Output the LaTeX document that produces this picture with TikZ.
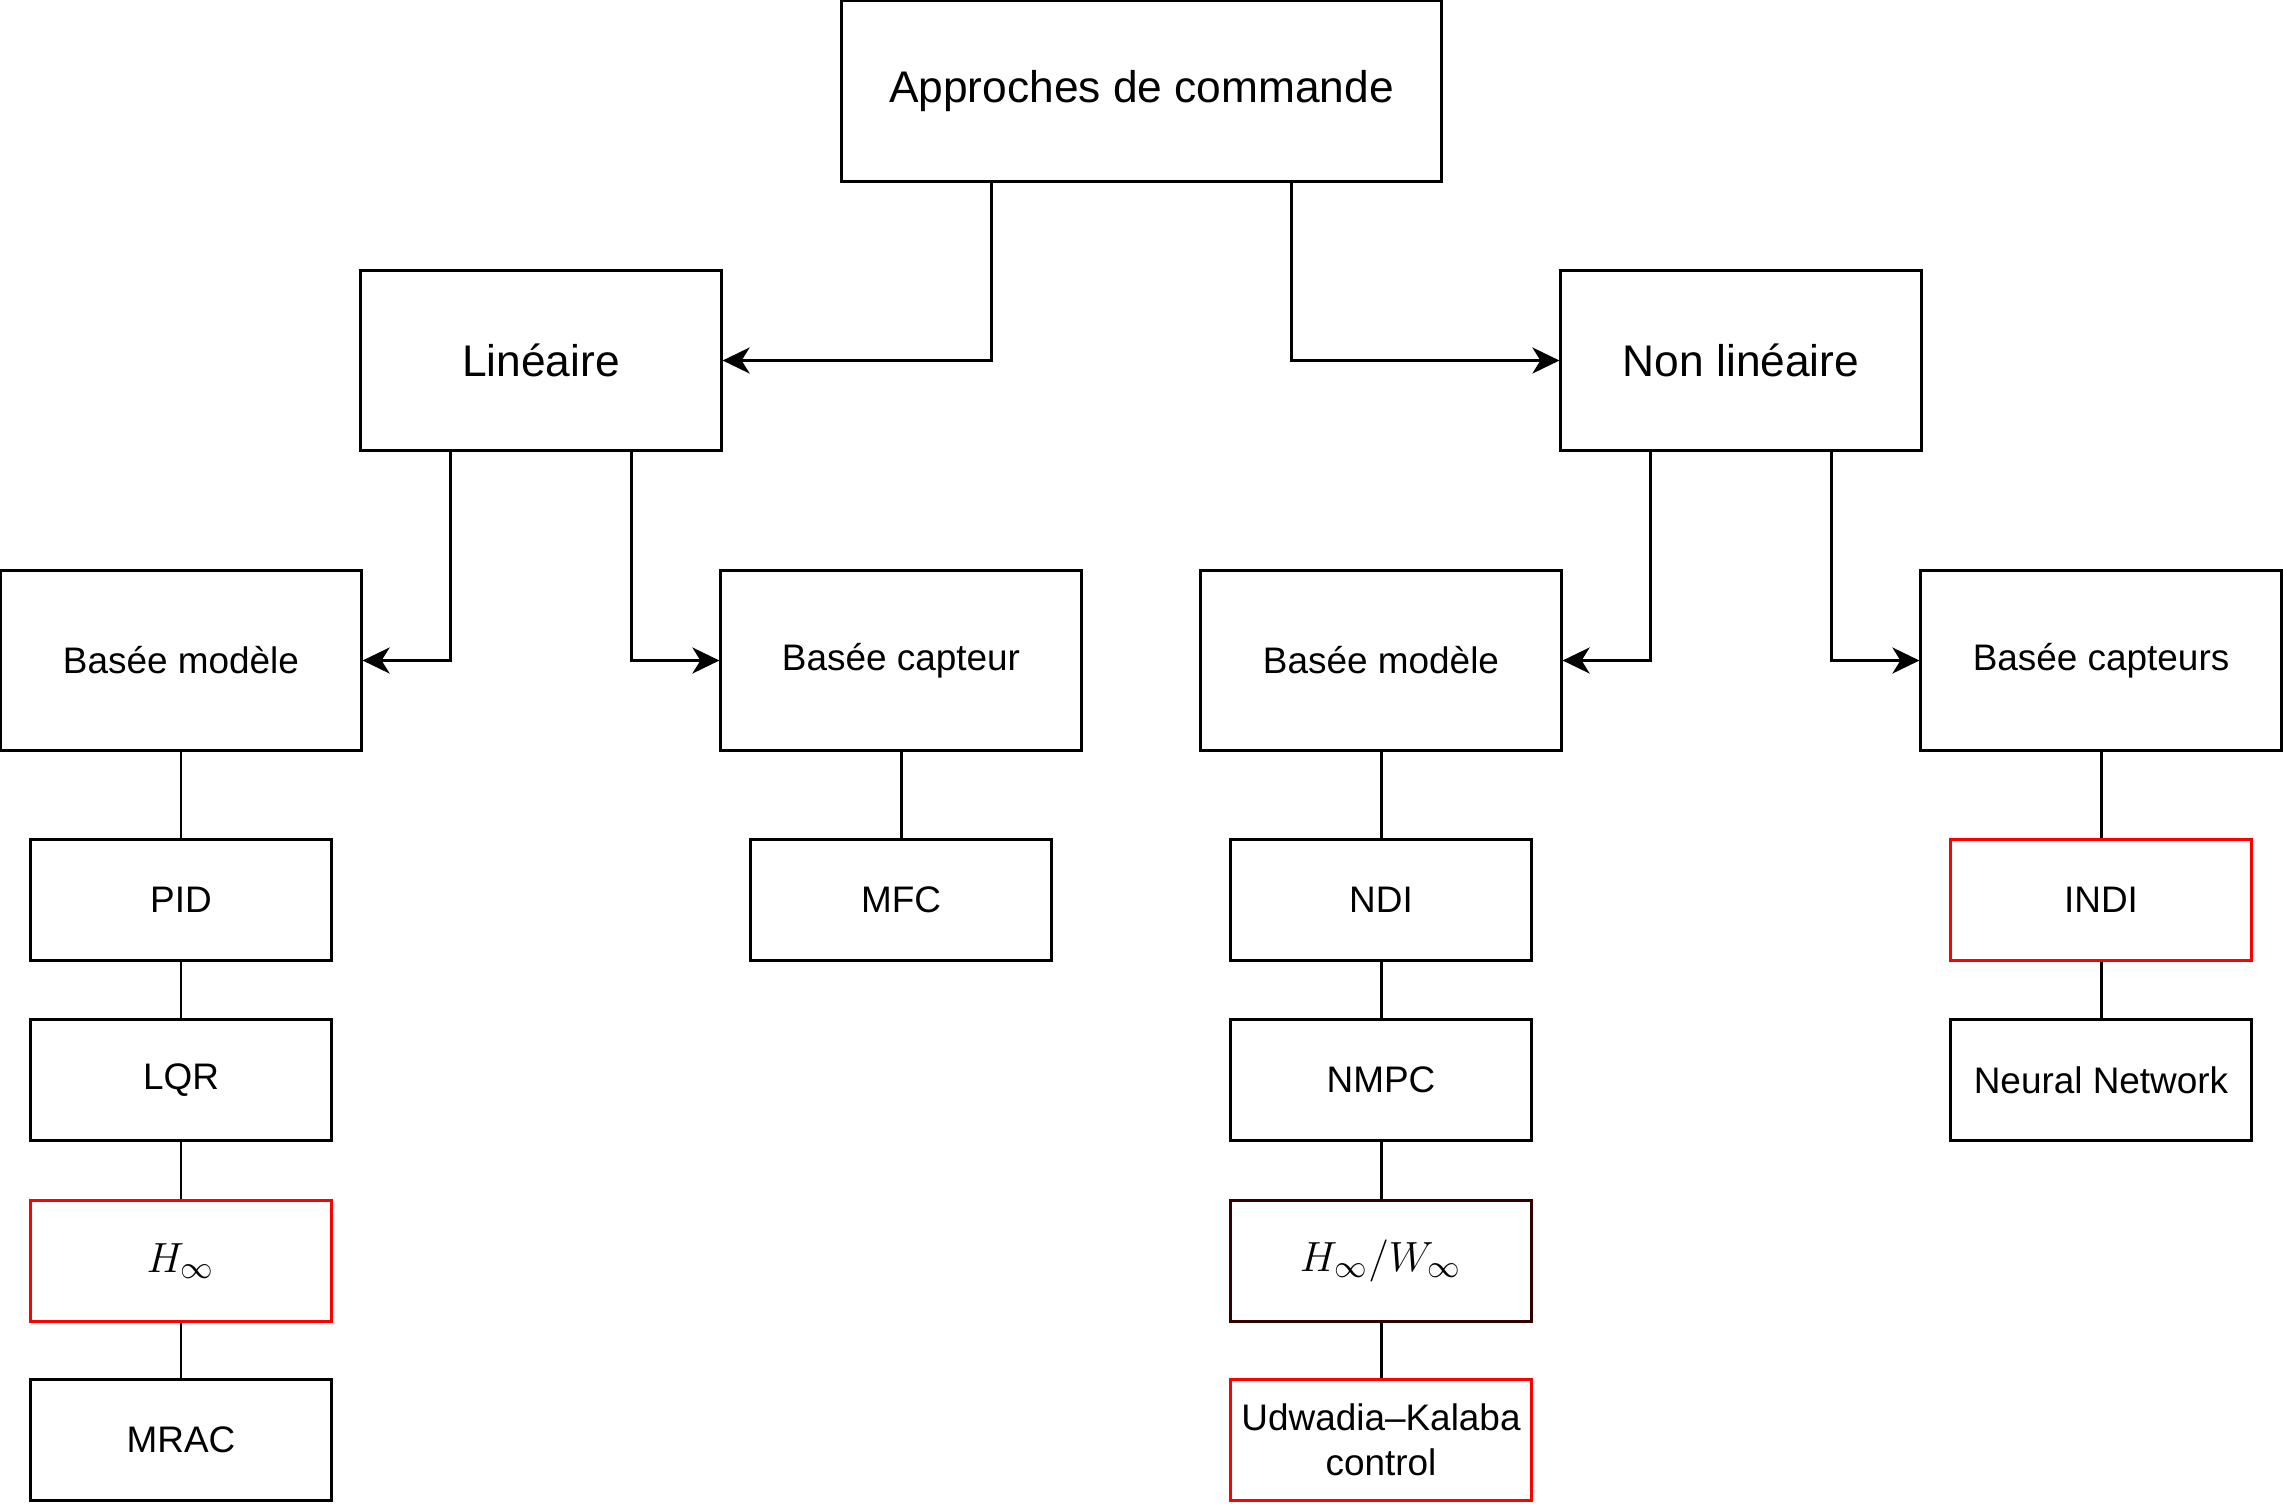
\documentclass[tikz,border=0pt]{standalone}
\usepackage{fontspec}
\setmainfont{Liberation Sans}
\usetikzlibrary{arrows.meta}

\definecolor{redline}{HTML}{FF0000}
\definecolor{darkline}{HTML}{330000}

\tikzset{
  box/.style={draw, line width=0.85pt, inner sep=0pt, align=center,
    font=\fontsize{10.5}{12.8}\selectfont},
  topbox/.style={box, minimum width=6cm, minimum height=1.8cm,
    font=\fontsize{12.6}{15}\selectfont},
  bigbox/.style={box, minimum width=3.6cm, minimum height=1.8cm},
  smallbox/.style={box, minimum width=3cm, minimum height=1.2cm},
  mathlbl/.style={font=\fontsize{12.5}{15}\selectfont},
  link/.style={line width=0.85pt},
  arr/.style={link, -{Stealth[length=0.27cm, width=0.26cm, inset=0.08cm]}},
}

\begin{document}
\begin{tikzpicture}[x=0.01cm, y=-0.01cm]
\useasboundingbox (0,0) rectangle (2283,1503);

% top and first split
\node[topbox] (root) at (1141.5,91) {Approches de commande};
\node[bigbox, font=\fontsize{12.6}{15}\selectfont] (lin) at (541,360.5) {Linéaire};
\node[bigbox, font=\fontsize{12.6}{15}\selectfont] (nonlin) at (1741,360.5) {Non linéaire};

% second split
\node[bigbox] (linmod) at (181,660.5) {Basée modèle};
\node[bigbox] (lincap) at (901,660.5) {Basée capteur};
\node[bigbox] (nlmod) at (1381,660.5) {Basée modèle};
\node[bigbox] (nlcap) at (2101,660.5) {Basée capteurs};

% methods
\node[smallbox] (pid) at (181,900) {PID};
\node[smallbox] (lqr) at (181,1080) {LQR};
\node[smallbox, draw=redline, mathlbl] (hinf) at (181,1261) {$H_\infty$};
\node[smallbox] (mrac) at (181,1440) {MRAC};

\node[smallbox] (mfc) at (901,900) {MFC};

\node[smallbox] (ndi) at (1381,900) {NDI};
\node[smallbox] (nmpc) at (1381,1080) {NMPC};
\node[smallbox, draw=darkline, mathlbl] (hwinf) at (1381,1261) {$H_\infty/W_\infty$};
\node[smallbox, draw=redline] (uk) at (1381,1440) {Udwadia–Kalaba\\control};

\node[smallbox, draw=redline] (indi) at (2101,900) {INDI};
\node[smallbox] (nn) at (2101,1080) {Neural Network};

% arrows
\draw[arr] ([xshift=-1.5cm]root.south) |- (lin.east);
\draw[arr] ([xshift=1.5cm]root.south) |- (nonlin.west);
\draw[arr] ([xshift=-0.9cm]lin.south) |- (linmod.east);
\draw[arr] ([xshift=0.9cm]lin.south) |- (lincap.west);
\draw[arr] ([xshift=-0.9cm]nonlin.south) |- (nlmod.east);
\draw[arr] ([xshift=0.9cm]nonlin.south) |- (nlcap.west);

% plain links
\draw[link] (linmod) -- (pid);
\draw[link] (pid) -- (lqr);
\draw[link] (lqr) -- (hinf);
\draw[link] (hinf) -- (mrac);
\draw[link] (lincap) -- (mfc);
\draw[link] (nlmod) -- (ndi);
\draw[link] (ndi) -- (nmpc);
\draw[link] (nmpc) -- (hwinf);
\draw[link] (hwinf) -- (uk);
\draw[link] (nlcap) -- (indi);
\draw[link] (indi) -- (nn);
\end{tikzpicture}
\end{document}
